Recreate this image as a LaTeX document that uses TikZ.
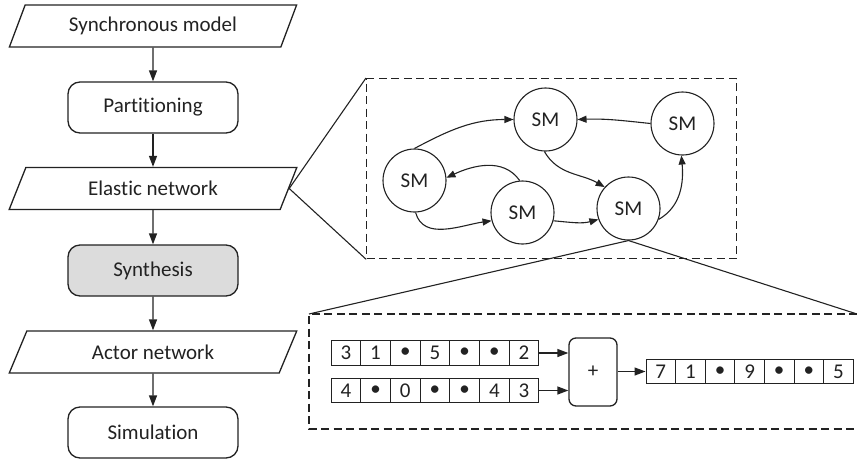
\documentclass[tikz,border=0pt]{standalone}
\usepackage{fontspec}
\setmainfont{Carlito}[Ligatures=NoCommon]
\usetikzlibrary{shapes.geometric,arrows.meta}

\definecolor{ink}{HTML}{222222}
\definecolor{shade}{HTML}{DCDCDC}

\begin{document}
\begin{tikzpicture}[x=1pt,y=1pt,
  font=\fontsize{21}{24}\selectfont, color=ink,
  every node/.style={inner sep=0pt, text=ink},
  io/.style={trapezium, trapezium left angle=60, trapezium right angle=120,
    trapezium stretches=true, minimum width=288pt, minimum height=42pt,
    draw=ink, line width=1.3pt},
  proc/.style={rectangle, rounded corners=12pt, minimum width=170pt,
    minimum height=51pt, draw=ink, line width=1.3pt},
  flow/.style={draw=ink, line width=1.3pt, -{Triangle[length=11pt,width=8pt]}},
  sm/.style={circle, draw=ink, line width=1.1pt, minimum size=63pt},
  gedge/.style={draw=ink, line width=1.1pt, -{Triangle[length=9pt,width=7pt]}},
  zoomline/.style={draw=ink, line width=1.1pt},
  dashbox/.style={draw=ink, line width=1.2pt, dash pattern=on 8pt off 4.5pt},
  cell/.style={rectangle, draw=ink, line width=0.9pt, minimum width=29.7pt,
    minimum height=24.5pt},
  opbox/.style={rectangle, rounded corners=7pt, draw=ink, line width=1.3pt,
    minimum width=48pt, minimum height=68pt},
  darr/.style={draw=ink, line width=1.3pt, -{Triangle[length=11pt,width=8pt]}}
]
\useasboundingbox (0,0) rectangle (857,-461);

% design flow
\node[io]   (sync)  at (153,-26)    {Synchronous model};
\node[proc] (part)  at (153,-107.5) {Partitioning};
\node[io]   (elast) at (153,-188.5) {Elastic network};
\node[proc, fill=shade] (synth) at (153,-270.5) {Synthesis};
\node[io]   (actor) at (153,-352)   {Actor network};
\node[proc] (sim)   at (153,-432.5) {Simulation};

\draw[flow] (sync)  -- (part);
\draw[flow] (part)  -- (elast);
\draw[flow] (elast) -- (synth);
\draw[flow] (synth) -- (actor);
\draw[flow] (actor) -- (sim);

% elastic network detail
\node[dashbox, minimum width=370pt, minimum height=180pt, anchor=north west]
  (net) at (366,-78) {};
\draw[zoomline] (net.north west) -- (elast.east) -- (net.south west);

\node[sm] (sma) at (414.5,-180.5) {SM};
\node[sm] (smb) at (545.5,-119.5) {SM};
\node[sm] (smc) at (522.5,-212.5) {SM};
\node[sm] (smd) at (682.5,-123.5) {SM};
\node[sm] (sme) at (628.5,-208.5) {SM};

\draw[gedge] (sma.90)  to[out=28,in=180]  (smb.180);
\draw[gedge] (smd.180) to[out=174,in=2]   (smb.0);
\draw[gedge] (smc.95)  to[out=125,in=25]  (sma.5);
\draw[gedge] (sma.272) to[out=-75,in=188] (smc.195);
\draw[gedge] (smb.268) to[out=-60,in=150] (sme.138);
\draw[gedge] (smc.-15) to[out=-5,in=195]  (sme.200);
\draw[gedge] (sme.-20) to[out=30,in=-85]  (smd.268);

% stream adder detail
\coordinate (lbl) at (309,-314);
\coordinate (lbr) at (857,-314);
\draw[dashbox] (lbr) -- (lbl) -- (309,-429) -- (857,-429);
\draw[zoomline] (lbl) -- (sme.south) -- (lbr);

\foreach \v [count=\i] in {3,1,\textbullet,5,\textbullet,\textbullet,2}
  \node[cell] (a\i) at ({331+29.7*\i-14.85},-353) {\v};
\foreach \v [count=\i] in {4,\textbullet,0,\textbullet,\textbullet,4,3}
  \node[cell] (b\i) at ({331+29.7*\i-14.85},-390.5) {\v};
\node[opbox] (add) at (593,-372) {+};
\foreach \v [count=\i] in {7,1,\textbullet,9,\textbullet,\textbullet,5}
  \node[cell] (c\i) at ({646+29.6*\i-14.8},-371.5) {\v};

\draw[darr] (a7.east) -- (a7.east -| add.west);
\draw[darr] (b7.east) -- (b7.east -| add.west);
\draw[darr] (add.east |- c1.west) -- (c1.west);
\end{tikzpicture}
\end{document}
